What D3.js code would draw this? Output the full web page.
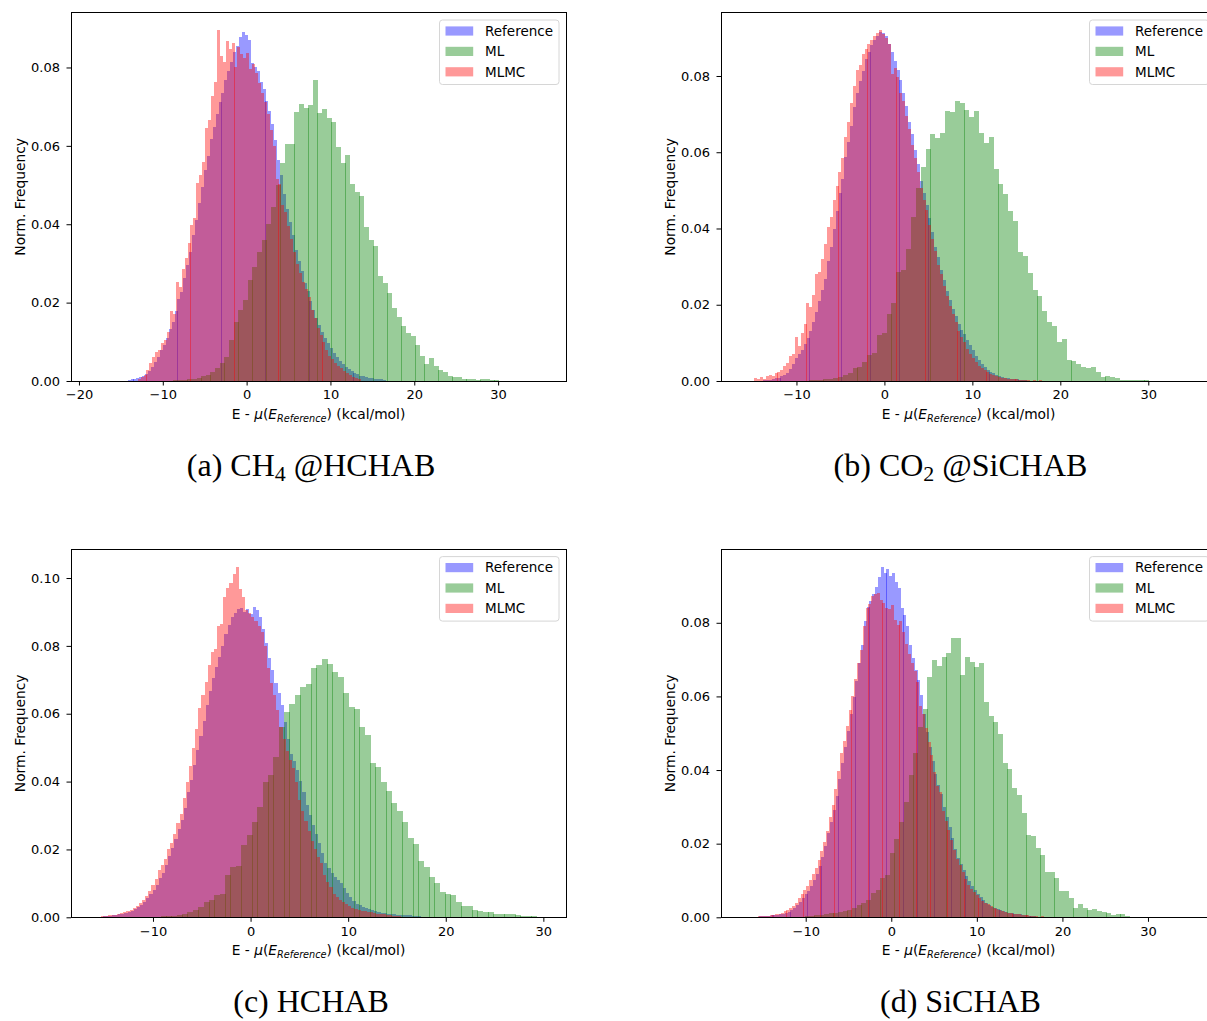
<!DOCTYPE html>
<html>
<head>
<meta charset="utf-8">
<script src="https://cdn.jsdelivr.net/npm/d3@7"></script>
<style>
  html, body { margin: 0; padding: 0; background: #fff; overflow: hidden; }
  svg { display: block; }
</style>
</head>
<body>
<svg id="fig" width="1207" height="1021"></svg>
<script>
// ---------------------------------------------------------------------------
// Histogram data: normalised frequency per bin. Each series is described by
// the left edge of its first bin, its bin width and the list of bin heights.
// ---------------------------------------------------------------------------
const seriesNames = ["Reference", "ML", "MLMC"];

// (a) CH4 @HCHAB
const refA_start = -14.2, refA_width = 0.35;
const refA = [.0003,.0004,.0006,.0008,.0010,.0013,.0019,.0026,.0036,.0048,
  .0062,.0080,.0092,.0110,.0132,.0150,.0178,.0208,.0228,.0262,
  .0295,.0330,.0372,.0412,.0455,.0495,.0538,.0575,.0618,.0648,
  .0680,.0712,.0735,.0768,.0790,.0815,.0840,.0856,.0878,.0890,
  .0882,.0870,.0812,.0800,.0790,.0762,.0745,.0715,.0690,.0655,
  .0615,.0565,.0525,.0478,.0440,.0405,.0372,.0335,.0305,.0280,
  .0250,.0230,.0205,.0182,.0160,.0142,.0125,.0110,.0097,.0085,
  .0072,.0060,.0052,.0044,.0036,.0030,.0025,.0021,.0017,.0014,
  .0012,.0010,.0008,.0007,.0005,.0004,.0004,.0002];
const mlA_start = -8.75, mlA_width = 0.555;
const mlA = [.0002,.0002,.0003,.0004,.0006,.0008,.0012,.0016,.0024,.0032,
  .0046,.0062,.0105,.0150,.0180,.0207,.0258,.0290,.0330,.0360,
  .0400,.0445,.0500,.0555,.0606,.0606,.0687,.0706,.0696,.0704,
  .0768,.0683,.0694,.0670,.0662,.0598,.0555,.0577,.0503,.0483,
  .0472,.0392,.0361,.0344,.0268,.0249,.0225,.0187,.0164,.0140,
  .0122,.0115,.0092,.0064,.0043,.0058,.0038,.0028,.0024,.0013,
  .0009,.0009,.0006,.0006,.0004,.0002,.0004,.0004,.0003,.0003,
  .0001];
const mlmcA_start = -13.0, mlmcA_width = 0.35;
const mlmcA = [.0006,.0010,.0016,.0028,.0046,.0062,.0075,.0080,.0098,.0104,
  .0125,.0178,.0172,.0252,.0240,.0285,.0315,.0352,.0398,.0415,
  .0505,.0525,.0560,.0645,.0665,.0728,.0762,.0895,.0830,.0815,
  .0868,.0848,.0862,.0800,.0852,.0835,.0825,.0838,.0795,.0810,
  .0785,.0760,.0735,.0712,.0680,.0640,.0600,.0515,.0502,.0448,
  .0432,.0395,.0362,.0330,.0298,.0275,.0252,.0235,.0215,.0182,
  .0160,.0135,.0118,.0100,.0080,.0065,.0055,.0046,.0038,.0032,
  .0026,.0020,.0015,.0010,.0008,.0005];

// (b) CO2 @SiCHAB
const refB_start = -13.8, refB_width = 0.33;
const refB = [.0002,.0002,.0003,.0005,.0007,.0009,.0012,.0016,.0022,.0032,
  .0045,.0060,.0070,.0082,.0098,.0112,.0130,.0155,.0180,.0210,
  .0238,.0268,.0315,.0352,.0398,.0445,.0492,.0530,.0588,.0628,
  .0670,.0718,.0755,.0788,.0812,.0845,.0862,.0880,.0895,.0905,
  .0916,.0912,.0905,.0885,.0862,.0840,.0815,.0790,.0755,.0722,
  .0680,.0648,.0605,.0568,.0525,.0492,.0462,.0428,.0392,.0352,
  .0325,.0292,.0265,.0236,.0212,.0190,.0170,.0150,.0135,.0122,
  .0108,.0095,.0080,.0066,.0054,.0045,.0036,.0029,.0024,.0020,
  .0016,.0013,.0011,.0009,.0008,.0006,.0005,.0004,.0003,.0003,
  .0002,.0001];
const mlB_start = -9.15, mlB_width = 0.553;
const mlB = [.0001,.0002,.0002,.0003,.0004,.0006,.0009,.0011,.0016,.0020,
  .0033,.0038,.0051,.0068,.0074,.0121,.0125,.0177,.0204,.0285,
  .0290,.0345,.0431,.0505,.0562,.0608,.0648,.0637,.0650,.0708,
  .0706,.0734,.0728,.0711,.0693,.0708,.0650,.0625,.0641,.0555,
  .0518,.0490,.0446,.0420,.0339,.0328,.0282,.0239,.0224,.0184,
  .0155,.0145,.0103,.0110,.0055,.0053,.0044,.0036,.0033,.0037,
  .0024,.0010,.0014,.0011,.0009,.0003,.0003,.0003,.0003,.0003,
  .0003];
const mlmcB_start = -14.8, mlmcB_width = 0.33;
const mlmcB = [.0008,.0004,.0010,.0006,.0013,.0015,.0012,.0020,.0024,.0030,
  .0040,.0046,.0065,.0070,.0115,.0092,.0125,.0150,.0205,.0195,
  .0225,.0280,.0285,.0320,.0360,.0405,.0430,.0475,.0512,.0548,
  .0585,.0640,.0680,.0728,.0775,.0815,.0830,.0858,.0870,.0885,
  .0895,.0905,.0912,.0920,.0910,.0900,.0885,.0805,.0820,.0798,
  .0755,.0735,.0695,.0660,.0620,.0585,.0548,.0505,.0475,.0448,
  .0410,.0372,.0340,.0305,.0280,.0248,.0222,.0196,.0175,.0155,
  .0132,.0115,.0102,.0085,.0072,.0060,.0050,.0040,.0035,.0028,
  .0023,.0019,.0016,.0013,.0011,.0009,.0008,.0006,.0005,.0004,
  .0004,.0003,.0003,.0002,.0003,.0001,.0003,.0001,.0002];

// (c) HCHAB
const refC_start = -15.8, refC_width = 0.32;
const refC = [.0002,.0002,.0003,.0005,.0005,.0006,.0008,.0009,.0011,.0013,
  .0016,.0020,.0024,.0030,.0037,.0045,.0056,.0068,.0080,.0096,
  .0115,.0132,.0155,.0180,.0205,.0232,.0260,.0288,.0322,.0368,
  .0405,.0448,.0492,.0535,.0578,.0625,.0668,.0705,.0738,.0768,
  .0800,.0836,.0862,.0885,.0898,.0908,.0912,.0900,.0908,.0895,
  .0915,.0905,.0886,.0850,.0808,.0765,.0728,.0690,.0660,.0625,
  .0575,.0525,.0482,.0462,.0435,.0402,.0368,.0332,.0302,.0272,
  .0245,.0220,.0190,.0160,.0145,.0132,.0120,.0110,.0100,.0086,
  .0073,.0060,.0047,.0040,.0036,.0031,.0028,.0024,.0021,.0018,
  .0016,.0014,.0012,.0011,.0010,.0009,.0008,.0008,.0007,.0006,
  .0006,.0004,.0003,.0003,.0002];
const mlC_start = -9.765, mlC_width = 0.55;
const mlC = [.0002,.0003,.0004,.0005,.0008,.0011,.0016,.0021,.0031,.0044,
  .0051,.0066,.0070,.0124,.0148,.0150,.0213,.0242,.0282,.0326,
  .0400,.0420,.0473,.0561,.0606,.0630,.0655,.0679,.0689,.0734,
  .0743,.0761,.0748,.0724,.0709,.0660,.0621,.0614,.0561,.0537,
  .0454,.0444,.0398,.0372,.0336,.0313,.0280,.0235,.0215,.0166,
  .0147,.0120,.0100,.0075,.0068,.0066,.0044,.0034,.0034,.0021,
  .0018,.0016,.0015,.0009,.0009,.0011,.0010,.0008,.0004,.0003,
  .0003,.0002,.0002];
const mlmcC_start = -15.6, mlmcC_width = 0.32;
const mlmcC = [.0002,.0003,.0004,.0006,.0007,.0008,.0010,.0012,.0015,.0018,
  .0022,.0027,.0034,.0042,.0050,.0062,.0078,.0095,.0112,.0138,
  .0155,.0172,.0202,.0218,.0245,.0278,.0305,.0352,.0400,.0445,
  .0500,.0555,.0618,.0655,.0695,.0745,.0782,.0790,.0858,.0865,
  .0945,.0970,.0985,.1012,.1033,.0968,.0945,.0905,.0898,.0885,
  .0872,.0860,.0840,.0800,.0735,.0690,.0655,.0610,.0562,.0525,
  .0490,.0465,.0440,.0400,.0345,.0312,.0285,.0255,.0225,.0200,
  .0178,.0160,.0125,.0105,.0088,.0070,.0060,.0052,.0046,.0040,
  .0034,.0028,.0025,.0022,.0020,.0019,.0017,.0015,.0013,.0011,
  .0010,.0009,.0008,.0006,.0005,.0004,.0003,.0002,.0002];

// (d) SiCHAB
const refD_start = -17.4, refD_width = 0.33;
const refD = [.0001,.0001,.0001,.0002,.0002,.0002,.0003,.0003,.0003,.0004,
  .0005,.0006,.0007,.0008,.0010,.0012,.0015,.0019,.0025,.0033,
  .0042,.0052,.0062,.0072,.0085,.0100,.0118,.0140,.0165,.0195,
  .0228,.0258,.0292,.0330,.0375,.0418,.0462,.0505,.0552,.0598,
  .0642,.0690,.0740,.0805,.0842,.0858,.0878,.0898,.0925,.0952,
  .0935,.0945,.0928,.0935,.0912,.0895,.0840,.0822,.0790,.0740,
  .0705,.0672,.0645,.0604,.0552,.0502,.0462,.0425,.0388,.0360,
  .0335,.0300,.0272,.0245,.0215,.0185,.0162,.0145,.0128,.0112,
  .0098,.0085,.0074,.0063,.0054,.0046,.0040,.0034,.0029,.0025,
  .0022,.0019,.0016,.0014,.0013,.0011,.0010,.0009,.0008,.0007,
  .0005,.0004,.0004,.0003,.0002,.0002];
const mlD_start = -11.18, mlD_width = 0.55;
const mlD = [.0001,.0002,.0003,.0004,.0005,.0007,.0009,.0011,.0013,.0015,
  .0017,.0020,.0024,.0033,.0038,.0047,.0065,.0074,.0106,.0115,
  .0174,.0214,.0260,.0314,.0386,.0445,.0517,.0565,.0653,.0699,
  .0683,.0708,.0719,.0759,.0759,.0658,.0708,.0694,.0681,.0690,
  .0586,.0547,.0531,.0499,.0418,.0403,.0350,.0332,.0282,.0223,
  .0221,.0187,.0169,.0122,.0122,.0106,.0071,.0071,.0053,.0026,
  .0036,.0026,.0020,.0022,.0017,.0015,.0013,.0006,.0008,.0008,
  .0003,.0002,.0002,.0002,.0002,.0002,.0001,.0001,0,0,
  0,0,.0001,.0002,.0001];
const mlmcD_start = -17.2, mlmcD_width = 0.33;
const mlmcD = [.0001,.0001,.0002,.0002,.0002,.0003,.0003,.0003,.0004,.0005,
  .0006,.0008,.0010,.0013,.0016,.0020,.0025,.0032,.0040,.0052,
  .0062,.0075,.0085,.0102,.0118,.0135,.0155,.0180,.0205,.0235,
  .0272,.0305,.0348,.0398,.0445,.0480,.0520,.0562,.0600,.0648,
  .0690,.0725,.0790,.0840,.0850,.0872,.0878,.0880,.0862,.0855,
  .0840,.0838,.0848,.0808,.0795,.0805,.0775,.0742,.0715,.0692,
  .0668,.0640,.0575,.0552,.0515,.0475,.0440,.0395,.0358,.0340,
  .0290,.0262,.0238,.0210,.0182,.0158,.0142,.0122,.0105,.0088,
  .0078,.0068,.0060,.0052,.0045,.0040,.0035,.0031,.0026,.0022,
  .0020,.0017,.0015,.0013,.0012,.0010,.0009,.0008,.0007,.0006,
  .0005,.0004,.0003,.0003,.0002,.0003,.0001];

// Axis limits of each panel (energy axis).
const xLimA = [-20.95, 38.1];
const xLimB = [-18.58, 37.7];
const xLimC = [-18.40, 32.32];
const xLimD = [-19.9, 37.95];

// Tick labels.
const xTickValues = [-20, -10, 0, 10, 20, 30];
const yTicksLow = [0, 0.02, 0.04, 0.06, 0.08];
const yTicksHigh = [0, 0.02, 0.04, 0.06, 0.08, 0.10];

// Sub-figure captions; a part starting with "_" is a subscript.
const captionA = ["(a) CH", "_4", " @HCHAB"];
const captionB = ["(b) CO", "_2", " @SiCHAB"];
const captionC = ["(c) HCHAB"];
const captionD = ["(d) SiCHAB"];

const yLabel = "Norm. Frequency";

// ---------------------------------------------------------------------------
// Drawing
// ---------------------------------------------------------------------------
const seriesColors = ["#0000ff", "#008000", "#ff0000"];
const BAR_OPACITY = 0.4;
const SANS = "DejaVu Sans";
const SERIF = "Liberation Serif";
const AX_W = 495;

const panels = [
  { xLim: xLimA, yTicks: yTicksLow, caption: captionA,
    series: [[refA_start, refA_width, refA], [mlA_start, mlA_width, mlA], [mlmcA_start, mlmcA_width, mlmcA]],
    left: 71, top: 12.7, height: 368.3, capX: 311, capY: 475.5 },
  { xLim: xLimB, yTicks: yTicksLow, caption: captionB,
    series: [[refB_start, refB_width, refB], [mlB_start, mlB_width, mlB], [mlmcB_start, mlmcB_width, mlmcB]],
    left: 721, top: 12.7, height: 368.3, capX: 960.5, capY: 475.5 },
  { xLim: xLimC, yTicks: yTicksHigh, caption: captionC,
    series: [[refC_start, refC_width, refC], [mlC_start, mlC_width, mlC], [mlmcC_start, mlmcC_width, mlmcC]],
    left: 71, top: 549.3, height: 368, capX: 311, capY: 1011.5 },
  { xLim: xLimD, yTicks: yTicksLow, caption: captionD,
    series: [[refD_start, refD_width, refD], [mlD_start, mlD_width, mlD], [mlmcD_start, mlmcD_width, mlmcD]],
    left: 721, top: 549.3, height: 368, capX: 960.5, capY: 1011.5 }
];

const svg = d3.select("#fig");
const defs = svg.append("defs");

panels.forEach((p, idx) => {
  const bottom = p.top + p.height;
  const right = p.left + AX_W;
  const x = d3.scaleLinear().domain(p.xLim).range([p.left, right]);
  const yMax = 1.05 * d3.max(p.series, s => d3.max(s[2]));
  const y = d3.scaleLinear().domain([0, yMax]).range([bottom, p.top]);

  const clipId = "axclip" + idx;
  defs.append("clipPath").attr("id", clipId)
    .append("rect").attr("x", p.left).attr("y", p.top)
    .attr("width", AX_W).attr("height", p.height);

  // histogram bars, drawn in legend order. Edges are snapped to whole pixels
  // and a bar never gets narrower than its rounded-up width, so neighbouring
  // bars now and then share a pixel column (a slightly darker seam).
  const plot = svg.append("g").attr("clip-path", `url(#${clipId})`);
  p.series.forEach(([start, width, values], si) => {
    const bins = values.map((v, i) => ({ x0: start + i * width, x1: start + (i + 1) * width, v }))
      .filter(b => b.v > 0);
    const minW = Math.ceil(x(start + width) - x(start) - 0.15);
    plot.append("g")
      .attr("fill", seriesColors[si])
      .attr("fill-opacity", BAR_OPACITY)
      .attr("shape-rendering", "crispEdges")
      .selectAll("rect").data(bins).join("rect")
      .attr("x", b => Math.round(x(b.x0)))
      .attr("width", b => Math.max(minW, Math.round(x(b.x1)) - Math.round(x(b.x0))))
      .attr("y", b => Math.round(y(b.v)))
      .attr("height", b => Math.round(y(0)) - Math.round(y(b.v)));
  });

  // axes
  const xAxis = d3.axisBottom(x)
    .tickValues(xTickValues.filter(t => t >= p.xLim[0] && t <= p.xLim[1]))
    .tickSize(4.5).tickPadding(4.5).tickFormat(d3.format("d"));
  svg.append("g").attr("transform", `translate(0,${bottom})`).call(xAxis)
    .call(g => g.select(".domain").remove())
    .call(g => g.selectAll("text").attr("font-family", SANS).attr("font-size", 13).attr("fill", "#000"))
    .call(g => g.selectAll("line").attr("stroke", "#000").attr("stroke-width", 1));

  const yAxis = d3.axisLeft(y).tickValues(p.yTicks)
    .tickSize(4.5).tickPadding(6.5).tickFormat(d3.format(".2f"));
  svg.append("g").attr("transform", `translate(${p.left},0)`).call(yAxis)
    .call(g => g.select(".domain").remove())
    .call(g => g.selectAll("text").attr("font-family", SANS).attr("font-size", 13).attr("fill", "#000"))
    .call(g => g.selectAll("line").attr("stroke", "#000").attr("stroke-width", 1));

  // frame
  svg.append("rect")
    .attr("x", p.left).attr("y", p.top).attr("width", AX_W).attr("height", p.height)
    .attr("fill", "none").attr("stroke", "#000").attr("stroke-width", 1)
    .attr("shape-rendering", "crispEdges");

  // axis labels
  const xl = svg.append("text")
    .attr("x", (p.left + right) / 2).attr("y", bottom + 38)
    .attr("text-anchor", "middle").attr("font-family", SANS).attr("font-size", 13.8);
  xl.append("tspan").text("E - ");
  xl.append("tspan").attr("font-style", "italic").text("μ");
  xl.append("tspan").text("(");
  xl.append("tspan").attr("font-style", "italic").text("E");
  xl.append("tspan").attr("font-style", "italic").attr("font-size", 9.7).attr("dy", 3).text("Reference");
  xl.append("tspan").attr("dy", -3).text(") (kcal/mol)");

  svg.append("text")
    .attr("transform", `translate(${p.left - 46},${(p.top + bottom) / 2}) rotate(-90)`)
    .attr("text-anchor", "middle").attr("font-family", SANS).attr("font-size", 13.8)
    .text(yLabel);

  // legend
  const lg = svg.append("g").attr("transform", `translate(${right - 126.5},${p.top + 7.3})`);
  lg.append("rect").attr("x", 0).attr("y", 0).attr("width", 119.5).attr("height", 64.5)
    .attr("rx", 3).attr("fill", "#fff").attr("fill-opacity", 0.8)
    .attr("stroke", "#d6d6d6").attr("stroke-width", 1);
  seriesNames.forEach((name, i) => {
    const cy = 11 + i * 20.4;
    lg.append("rect").attr("x", 6).attr("y", cy - 4.6).attr("width", 27.7).attr("height", 9.2)
      .attr("fill", seriesColors[i]).attr("fill-opacity", BAR_OPACITY);
    lg.append("text").attr("x", 45.5).attr("y", cy + 4.8)
      .attr("font-family", SANS).attr("font-size", 13.5).text(name);
  });

  // caption
  const cap = svg.append("text").attr("x", p.capX).attr("y", p.capY)
    .attr("text-anchor", "middle").attr("font-family", SERIF).attr("font-size", 32);
  let shifted = 0;
  p.caption.forEach(part => {
    if (part.startsWith("_")) {
      cap.append("tspan").attr("font-size", 22).attr("dy", 5).text(part.slice(1));
      shifted = 5;
    } else {
      cap.append("tspan").attr("dy", -shifted).text(part);
      shifted = 0;
    }
  });
});
</script>
</body>
</html>
